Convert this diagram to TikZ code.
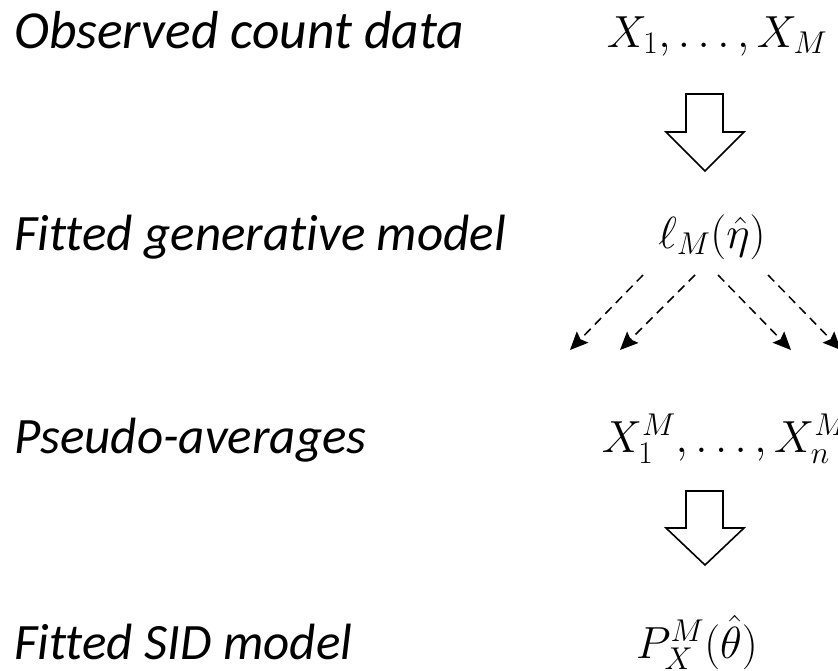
\RequirePackage{fix-cm}
\documentclass[tikz,border=0pt]{standalone}
\usepackage{fontspec}
\setmainfont[Ligatures=NoCommon]{Carlito}
\usetikzlibrary{arrows.meta}
\begin{document}
\begin{tikzpicture}[x=1pt,y=-1pt,
  lbl/.style={anchor=base west,inner sep=0pt,font=\fontsize{51}{60}\selectfont\itshape},
  mth/.style={anchor=base,inner sep=0pt,font=\fontsize{45}{54}\selectfont},
  hollow/.style={draw=black,line width=1.6pt,fill=white,line join=miter},
  dsh/.style={draw=black,line width=1.5pt,dash pattern=on 9pt off 6pt,-{Stealth[length=18pt,width=16pt,inset=3pt]}}]
\useasboundingbox (0,0) rectangle (838,670);
\node[lbl,font=\fontsize{53.5}{60}\selectfont\itshape] (l1) at (14,48) {Observed count data};
\node[lbl] (l2) at (14,250) {Fitted generative model};
\node[lbl] (l3) at (14,453) {Pseudo-averages};
\node[lbl] (l4) at (14,659) {Fitted SID model};
\node[mth] (m1) at (717,47) {$X_1,\ldots,X_M$};
\node[mth] (m2) at (712,248) {$\ell_M(\hat\eta)$};
\node[mth] (m3) at (725,452) {$X_1^M,\ldots,X_n^M$};
\node[mth] (m4) at (697,658) {$P_X^M(\hat\theta)$};
% hollow arrows
\draw[hollow] (686,94) -- (723,94) -- (723,132) -- (744,132) -- (705,171) -- (666,132) -- (686,132) -- cycle;
\draw[hollow] (686,491) -- (723,491) -- (723,528) -- (744,528) -- (705,565) -- (666,528) -- (686,528) -- cycle;
% dashed arrows
\coordinate (s1) at (643,275); \coordinate (e1) at (570,350);
\coordinate (s2) at (695,275); \coordinate (e2) at (620,350);
\coordinate (s3) at (718,275); \coordinate (e3) at (791,350);
\coordinate (s4) at (768,275); \coordinate (e4) at (841,350);
\draw[dsh] (s1) -- (e1);
\draw[dsh] (s2) -- (e2);
\draw[dsh] (s3) -- (e3);
\draw[dsh] (s4) -- (e4);
\end{tikzpicture}
\end{document}
